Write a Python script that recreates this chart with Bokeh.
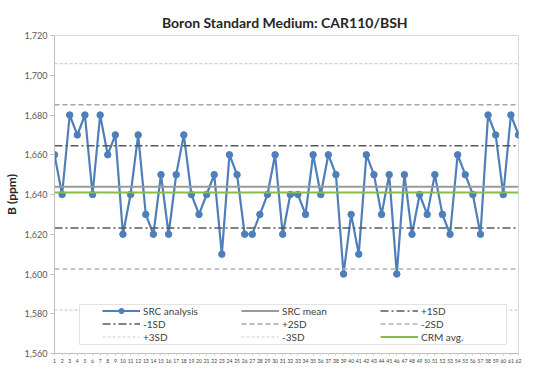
import numpy as np
from bokeh.plotting import figure
from bokeh.models import (Range1d, FixedTicker, NumeralTickFormatter, Legend,
                          LegendItem, BoxAnnotation, ColumnDataSource)
from bokeh.embed import file_html
from bokeh.resources import INLINE

# ---------------- data ----------------
title_text = "Boron Standard Medium:  CAR110/BSH"
y_title = "B (ppm)"
samples = list(range(1, 63))
boron_ppm = [1660, 1640, 1680, 1670, 1680, 1640, 1680, 1660, 1670, 1620,
             1640, 1670, 1630, 1620, 1650, 1620, 1650, 1670, 1640, 1630,
             1640, 1650, 1610, 1660, 1650, 1620, 1620, 1630, 1640, 1660,
             1620, 1640, 1640, 1630, 1660, 1640, 1660, 1650, 1600, 1630,
             1610, 1660, 1650, 1630, 1650, 1600, 1650, 1620, 1640, 1630,
             1650, 1630, 1620, 1660, 1650, 1640, 1620, 1680, 1670, 1640,
             1680, 1670]
crm_avg = 1641
y_ticks = [1560, 1580, 1600, 1620, 1640, 1660, 1680, 1700, 1720]
sd_multipliers = [1, -1, 2, -2, 3, -3]
sd_labels = ["+1SD", "-1SD", "+2SD", "-2SD", "+3SD", "-3SD"]

src_mean = float(np.mean(boron_ppm))
src_sd = float(np.std(boron_ppm, ddof=1))

# ---------------- styles ----------------
BLUE = "#4f7fbb"
FONT = "Lato"
sd_styles = {
    "+1SD": dict(line_color="#595959", line_width=1.5, line_dash="8 3 2 3"),
    "-1SD": dict(line_color="#595959", line_width=1.5, line_dash="8 3 2 3"),
    "+2SD": dict(line_color="#a6a6a6", line_width=1.5, line_dash="5 3"),
    "-2SD": dict(line_color="#b4b4b4", line_width=1.5, line_dash="5 3"),
    "+3SD": dict(line_color="#cfcfcf", line_width=1.2, line_dash="3 2"),
    "-3SD": dict(line_color="#cfcfcf", line_width=1.2, line_dash="3 2"),
}

p = figure(width=535, height=370, output_backend="svg", toolbar_location=None,
           x_range=Range1d(1, 62), y_range=Range1d(1560, 1720),
           min_border_left=46, min_border_right=17, min_border_top=35,
           min_border_bottom=17, title=title_text)
p.background_fill_color = "white"
p.border_fill_color = "white"
p.outline_line_color = "#d9d9d9"
p.outline_line_width = 1
p.xgrid.visible = False
p.ygrid.visible = False

p.title.align = "center"
p.title.offset = 0
p.title.text_font = FONT
p.title.text_font_size = "14px"
p.title.text_font_style = "bold"
p.title.text_color = "#262626"
p.title.standoff = 9

# y axis
p.yaxis.ticker = FixedTicker(ticks=y_ticks)
p.yaxis.formatter = NumeralTickFormatter(format="0,0")
p.yaxis.axis_label = y_title
p.yaxis.axis_label_text_font = FONT
p.yaxis.axis_label_text_font_size = "12px"
p.yaxis.axis_label_text_font_style = "bold"
p.yaxis.axis_label_text_color = "#262626"
p.yaxis.axis_label_standoff = 3
p.yaxis.major_label_text_font = FONT
p.yaxis.major_label_text_font_size = "9px"
p.yaxis.major_label_text_color = "#595959"
p.yaxis.major_label_standoff = 3
p.yaxis.major_tick_out = 4
p.yaxis.major_tick_in = 0
p.yaxis.minor_tick_out = 0
p.yaxis.minor_tick_in = 0
p.yaxis.axis_line_color = "#bfbfbf"
p.yaxis.major_tick_line_color = "#bfbfbf"

# x axis
p.xaxis.ticker = FixedTicker(ticks=samples)
p.xaxis.major_label_text_font = FONT
p.xaxis.major_label_text_font_size = "5px"
p.xaxis.major_label_text_color = "#404040"
p.xaxis.major_label_standoff = 3
p.xaxis.major_tick_out = 2
p.xaxis.major_tick_in = 0
p.xaxis.minor_tick_out = 0
p.xaxis.minor_tick_in = 0
p.xaxis.axis_line_color = "#bfbfbf"
p.xaxis.major_tick_line_color = "#d0d0d0"

# data series
src = ColumnDataSource(dict(x=samples, y=boron_ppm))
r_line = p.line("x", "y", source=src, line_color=BLUE, line_width=2.2)
r_pts = p.scatter("x", "y", source=src, size=6.5, fill_color=BLUE,
                  line_color=BLUE)

n = len(samples)
r_mean = p.line(samples, [src_mean] * n, line_color="#9a9a9a", line_width=2)
sd_renderers = {}
for lab, k in zip(sd_labels, sd_multipliers):
    sd_renderers[lab] = p.line(samples, [src_mean + k * src_sd] * n,
                               **sd_styles[lab])
r_crm = p.line(samples, [crm_avg] * n, line_color="#86bc48", line_width=2)

# legend frame
box = BoxAnnotation(left=25, right=452, bottom=9, top=49,
                    left_units="screen", right_units="screen",
                    top_units="screen", bottom_units="screen",
                    fill_color="white", fill_alpha=1.0,
                    line_color="#a6a6a6", line_width=1)
p.add_layout(box)

items = [
    LegendItem(label="SRC analysis", renderers=[r_line, r_pts]),
    LegendItem(label="SRC mean", renderers=[r_mean]),
    LegendItem(label="+1SD", renderers=[sd_renderers["+1SD"]]),
    LegendItem(label="-1SD", renderers=[sd_renderers["-1SD"]]),
    LegendItem(label="+2SD", renderers=[sd_renderers["+2SD"]]),
    LegendItem(label="-2SD", renderers=[sd_renderers["-2SD"]]),
    LegendItem(label="+3SD", renderers=[sd_renderers["+3SD"]]),
    LegendItem(label="-3SD", renderers=[sd_renderers["-3SD"]]),
    LegendItem(label="CRM avg.", renderers=[r_crm]),
]
legend = Legend(items=items, location=(48, 10), orientation="horizontal",
                ncols=3, padding=0, margin=0, spacing=0,
                glyph_width=38, glyph_height=13, label_height=13,
                label_width=98, label_standoff=3,
                label_text_font=FONT, label_text_font_size="10px",
                label_text_color="#404040",
                border_line_color=None, background_fill_alpha=0.0)
p.add_layout(legend)

open("out.html", "w").write(file_html(p, INLINE))
